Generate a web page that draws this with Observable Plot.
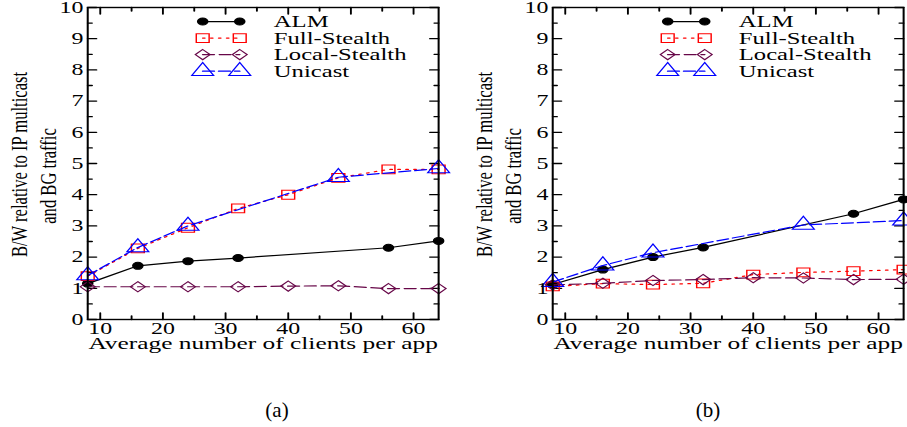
<!DOCTYPE html>
<html><head><meta charset="utf-8">
<script src="https://cdn.jsdelivr.net/npm/d3@7"></script>
<script src="https://cdn.jsdelivr.net/npm/@observablehq/plot@0.6"></script>
<style>
html,body{margin:0;padding:0;background:#fff;overflow:hidden;}
#wrap{position:relative;width:907px;height:427px;overflow:hidden;background:#fff;}
.panel{position:absolute;top:0;transform-origin:0 0;transform:scaleX(1.45);}
.panel svg{display:block;overflow:visible;max-width:none;}
.cap{position:absolute;top:398px;font-family:"Liberation Serif",serif;font-size:21px;width:60px;text-align:center;color:#000;}
</style></head><body><div id="wrap"></div>
<script>
// ---- data ----
const xAll = [8, 16, 24, 32, 40, 48, 56, 64];
const xALM = [8, 16, 24, 32, 56, 64];
const xUnicast = [8, 16, 24, 48, 64];

const almA = [1.15, 1.72, 1.87, 1.97, 2.30, 2.52];
const fullA = [1.39, 2.28, 2.94, 3.56, 4.00, 4.54, 4.81, 4.81];
const localA = [1.05, 1.05, 1.05, 1.05, 1.07, 1.08, 0.99, 0.99];
const uniA = [1.41, 2.31, 3.00, 4.56, 4.84];

const almB = [1.12, 1.60, 2.00, 2.31, 3.39, 3.85];
const fullB = [1.06, 1.15, 1.12, 1.16, 1.44, 1.51, 1.55, 1.60];
const localB = [1.11, 1.16, 1.25, 1.28, 1.34, 1.33, 1.28, 1.29];
const uniB = [1.20, 1.73, 2.14, 3.03, 3.17];

const seriesNames = ["ALM", "Full-Stealth", "Local-Stealth", "Unicast"];
const xTicks = [10, 20, 30, 40, 50, 60];
const xMinor = [15, 25, 35, 45, 55];
const yTicks = [0, 1, 2, 3, 4, 5, 6, 7, 8, 9, 10];
const yMinor = [0.5, 1.5, 2.5, 3.5, 4.5, 5.5, 6.5, 7.5, 8.5, 9.5];
const xLabel = "Average number of clients per app";
const yLabelLines = ["B/W relative to IP multicast", "and BG traffic"];
const captions = ["(a)", "(b)"];

// ---- styles / layout ----
const styles = [
  {stroke: "#000000", dash: null, symbol: "circle", r: 3.5, fill: "#000000"},
  {stroke: "#ff0000", dash: "1.5 4", symbol: "square", r: 5, fill: "none"},
  {stroke: "#670748", dash: "8 3.5", symbol: "diamond2", r: 4.6, fill: "none"},
  {stroke: "#0000ff", dash: "8 3", symbol: "triangle", r: 5.6, fill: "none"}
];
const legendX = [26.35, 32.26];
const legendTextX = 37.7;
const legendTop = 9.55, legendStep = 0.53;
const W = 312, H = 360, mL = 60, mR = 10, mT = 7, mB = 41;
const fw = W - mL - mR, fh = H - mT - mB;
const xDom = [8, 64], yDom = [0, 10];

function pts(xs, ys) { return xs.map((x, i) => ({x, y: ys[i]})); }

// inward tick segments on all four sides (lengths in px converted to data units)
function tickSegs(xs, ys, px) {
  const ly = px * (yDom[1] - yDom[0]) / fh;
  const lx = (px - 0.5) * (xDom[1] - xDom[0]) / fw;
  const rows = [];
  xs.forEach(t => {
    rows.push({x: t, y: yDom[0], z: "b" + t}, {x: t, y: yDom[0] + ly, z: "b" + t});
    rows.push({x: t, y: yDom[1], z: "t" + t}, {x: t, y: yDom[1] - ly, z: "t" + t});
  });
  ys.forEach(t => {
    rows.push({x: xDom[0], y: t, z: "l" + t}, {x: xDom[0] + lx, y: t, z: "l" + t});
    rows.push({x: xDom[1], y: t, z: "r" + t}, {x: xDom[1] - lx, y: t, z: "r" + t});
  });
  return rows;
}

function seriesMarks(rows, st) {
  return [
    Plot.line(rows, {x: "x", y: "y", stroke: st.stroke, strokeWidth: 1.2, strokeDasharray: st.dash}),
    Plot.dot(rows, {x: "x", y: "y", symbol: () => st.symbol, r: st.r, stroke: st.stroke, fill: st.fill, strokeWidth: 1})
  ];
}

function makePanel(seriesData) {
  const marks = [];
  marks.push(
    Plot.line(tickSegs(xTicks, yTicks, 6.5), {x: "x", y: "y", z: "z", stroke: "#000", strokeWidth: 1.3}),
    Plot.line(tickSegs(xMinor, yMinor, 3.5), {x: "x", y: "y", z: "z", stroke: "#000", strokeWidth: 1.3})
  );
  seriesData.forEach((rows, i) => marks.push(...seriesMarks(rows, styles[i])));
  seriesNames.forEach((name, i) => {
    const yy = legendTop - i * legendStep;
    marks.push(...seriesMarks(legendX.map(x => ({x, y: yy})), styles[i]));
    marks.push(Plot.text([name], {x: legendTextX, y: yy, text: d => d, textAnchor: "start", fontSize: 17}));
  });
  marks.push(
    Plot.axisX({ticks: xTicks, tickSize: 0, tickPadding: 3, fontSize: 16.5, label: null}),
    Plot.axisY({ticks: yTicks, tickSize: 0, tickPadding: 3, fontSize: 16.5, label: null}),
    Plot.frame({stroke: "#000", strokeWidth: 1.4}),
    Plot.text([xLabel], {frameAnchor: "bottom", lineAnchor: "middle", textAnchor: "middle", dy: 24, text: d => d, fontSize: 17.5}),
    Plot.text([yLabelLines[0]], {frameAnchor: "left", textAnchor: "middle", lineAnchor: "middle", rotate: -90, dx: -46.9, dy: 1, text: d => d, fontSize: 16.6}),
    Plot.text([yLabelLines[1]], {frameAnchor: "left", textAnchor: "middle", lineAnchor: "middle", rotate: -90, dx: -27.2, dy: 12.5, text: d => d, fontSize: 16.6})
  );
  return Plot.plot({
    width: W, height: H,
    marginLeft: mL, marginRight: mR, marginTop: mT, marginBottom: mB,
    x: {domain: xDom, label: null},
    y: {domain: yDom, label: null},
    style: {fontFamily: "Liberation Serif", fontSize: "16.5px", color: "#000", background: "transparent", overflow: "visible"},
    marks
  });
}

const wrap = document.getElementById("wrap");
const panels = [
  [pts(xALM, almA), pts(xAll, fullA), pts(xAll, localA), pts(xUnicast, uniA)],
  [pts(xALM, almB), pts(xAll, fullB), pts(xAll, localB), pts(xUnicast, uniB)]
];
const lefts = [0, 465];
const capCenters = [277, 708];
panels.forEach((p, k) => {
  const div = document.createElement("div");
  div.className = "panel";
  div.style.left = lefts[k] + "px";
  div.appendChild(makePanel(p));
  wrap.appendChild(div);
  const cap = document.createElement("div");
  cap.className = "cap";
  cap.style.left = (capCenters[k] - 30) + "px";
  cap.textContent = captions[k];
  wrap.appendChild(cap);
});
</script>
</body></html>
